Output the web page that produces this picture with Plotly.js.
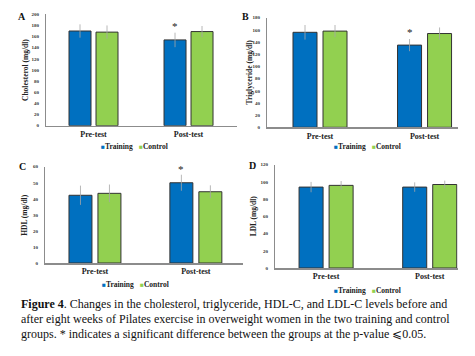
<!DOCTYPE html>
<html><head><meta charset="utf-8">
<script src="https://cdn.plot.ly/plotly-3.0.1.min.js"></script>
<style>html,body{margin:0;padding:0;background:#fff}#chart{width:475px;height:356px}</style>
</head><body><div id="chart"></div>
<script>
// ---- data ----
const categories = ['Pre-test', 'Post-test'];
const seriesNames = ['Training', 'Control'];
const cholTraining = [170, 154], cholTrainingErr = [12, 13];
const cholControl = [168, 169], cholControlErr = [12, 10];
const trigTraining = [156, 135], trigTrainingErr = [12, 10];
const trigControl = [158, 154], trigControlErr = [10, 10];
const hdlTraining = [42.2, 50], hdlTrainingErr = [6, 5];
const hdlControl = [43.4, 44.4], hdlControlErr = [5.5, 4];
const ldlTraining = [94, 94], ldlTrainingErr = [6, 5.5];
const ldlControl = [96, 97], ldlControlErr = [5, 4.5];
const yTitles = ['Cholesterol (mg/dl)', 'Triglyceride (mg/dl)', 'HDL (mg/dl)', 'LDL (mg/dl)'];
const panelLetters = ['A', 'B', 'C', 'D'];
const significant = [true, true, true, false]; // asterisk on post-test training bar

// ---- layout geometry (pixels) ----
const W = 475, H = 356;
const panels = [
  {x0: 46, x1: 236.7, rng: [-0.5, 1.507], yt: 14.3, yb: 125.7, ymax: 200, dtick: 20, S: 95, w: 22, g: 5,
   train: cholTraining, trainErr: cholTrainingErr, ctrl: cholControl, ctrlErr: cholControlErr,
   titleX: 25, letter: [22, 17], legend: [99, 147], astShift: 7},
  {x0: 267, x1: 458, rng: [-0.507, 1.32], yt: 17.7, yb: 127.3, ymax: 180, dtick: 20, S: 104.5, w: 24, g: 6,
   train: trigTraining, trainErr: trigTrainingErr, ctrl: trigControl, ctrlErr: trigControlErr,
   titleX: 249, letter: [245, 16], legend: [332, 147], astShift: 7},
  {x0: 45, x1: 243.3, rng: [-0.495, 1.47], yt: 166.7, yb: 263, ymax: 60, dtick: 10, S: 101, w: 23, g: 6,
   train: hdlTraining, trainErr: hdlTrainingErr, ctrl: hdlControl, ctrlErr: hdlControlErr,
   titleX: 25, letter: [22, 166], legend: [100, 284], astShift: 6},
  {x0: 275, x1: 457.7, rng: [-0.493, 1.27], yt: 164.7, yb: 268, ymax: 120, dtick: 20, S: 103.5, w: 24, g: 6,
   train: ldlTraining, trainErr: ldlTrainingErr, ctrl: ldlControl, ctrlErr: ldlControlErr,
   titleX: 253, letter: [252, 165], legend: [332, 290], astShift: 0}
];

const blue = '#0070C0', green = '#92D050', outline = '#333333', axisCol = '#8c8c8c';
const serif = 'Liberation Serif, Times New Roman, serif';
const traces = [], annotations = [];
const layout = {
  width: W, height: H, margin: {l: 0, r: 0, t: 0, b: 0},
  paper_bgcolor: '#fff', plot_bgcolor: 'rgba(0,0,0,0)',
  barmode: 'overlay', showlegend: false, annotations: annotations
};
const sq = c => '<span style="color:' + c + ';font-size:6.5px">■</span>';
const legendColors = [blue, green];
const legendStep = 38;

panels.forEach((p, i) => {
  const n = i === 0 ? '' : String(i + 1);
  const xa = 'x' + n, ya = 'y' + n;
  const wU = p.w / p.S, gU = p.g / p.S;
  const errStyle = arr => ({type: 'data', array: arr, visible: true, color: '#a6a6a6', thickness: 0.8, width: 0});
  traces.push({
    type: 'bar', name: seriesNames[0], x: categories, y: p.train, xaxis: xa, yaxis: ya,
    width: wU, offset: -(wU + gU / 2),
    marker: {color: blue, line: {color: outline, width: 1}},
    error_y: errStyle(p.trainErr), hoverinfo: 'skip'
  });
  traces.push({
    type: 'bar', name: seriesNames[1], x: categories, y: p.ctrl, xaxis: xa, yaxis: ya,
    width: wU, offset: gU / 2,
    marker: {color: green, line: {color: outline, width: 1}},
    error_y: errStyle(p.ctrlErr), hoverinfo: 'skip'
  });
  layout['xaxis' + n] = {
    domain: [p.x0 / W, p.x1 / W], range: p.rng, type: 'category', anchor: ya,
    showline: true, linecolor: axisCol, linewidth: 1.6, showgrid: false, zeroline: false,
    ticks: '', tickfont: {family: serif, size: 8, color: '#222', weight: 'bold'}, fixedrange: true
  };
  layout['yaxis' + n] = {
    domain: [(H - p.yb) / H, (H - p.yt) / H], range: [0, p.ymax], dtick: p.dtick, anchor: xa,
    showline: true, linecolor: axisCol, linewidth: 1, showgrid: false, zeroline: false,
    ticks: '', ticklabelstandoff: 5, tickfont: {family: serif, size: 5, color: '#333', weight: 'bold'}, fixedrange: true
  };
  annotations.push({
    xref: 'paper', yref: 'paper', x: p.titleX / W, y: (H - (p.yt + p.yb) / 2) / H,
    text: yTitles[i], textangle: -90, showarrow: false, xanchor: 'center', yanchor: 'middle',
    font: {family: serif, size: 7.5, color: '#222', weight: 'bold'}
  });
  annotations.push({
    xref: 'paper', yref: 'paper', x: p.letter[0] / W, y: (H - p.letter[1]) / H,
    text: panelLetters[i], showarrow: false, xanchor: 'center', yanchor: 'middle',
    font: {family: serif, size: 10, color: '#111', weight: 'bold'}
  });
  seriesNames.forEach((name, k) => annotations.push({
    xref: 'paper', yref: 'paper', x: (p.legend[0] + k * legendStep) / W, y: (H - p.legend[1]) / H,
    text: sq(legendColors[k]) + name,
    showarrow: false, xanchor: 'left', yanchor: 'middle',
    font: {family: serif, size: 7.5, color: '#222', weight: 'bold'}
  }));
  if (significant[i]) {
    annotations.push({
      xref: xa, yref: ya, x: categories[1], y: p.train[1] + p.trainErr[1],
      xshift: -(p.w + p.g) / 2, yshift: p.astShift, text: '*', showarrow: false,
      xanchor: 'center', yanchor: 'middle', font: {family: serif, size: 11, color: '#222'}
    });
  }
});

const captionLines = [
  '<b>Figure 4</b>. Changes in the cholesterol, triglyceride, HDL-C, and LDL-C levels before and',
  'after eight weeks of Pilates exercise in overweight women in the two training and control',
  'groups. * indicates a significant difference between the groups at the p-value ⩽0.05.'
];
const captionY = [304, 319, 334];
captionLines.forEach((t, k) => annotations.push({
  xref: 'paper', yref: 'paper', x: 19 / W, y: (H - captionY[k]) / H, text: t,
  showarrow: false, xanchor: 'left', yanchor: 'middle',
  font: {family: serif, size: 12, color: '#111'}
}));

Plotly.newPlot('chart', traces, layout, {staticPlot: true, displayModeBar: false});
</script>
</body></html>
